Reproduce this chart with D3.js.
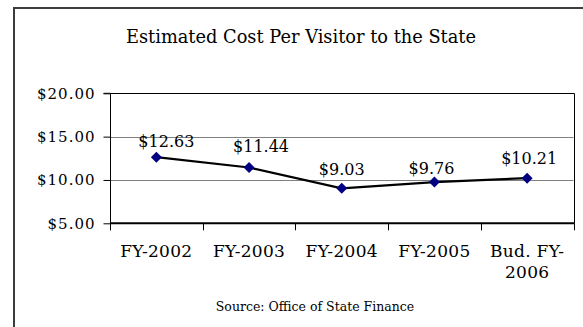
<!DOCTYPE html>
<html>
<head>
<meta charset="utf-8">
<script src="https://cdn.jsdelivr.net/npm/d3@7"></script>
<style>
  html, body { margin: 0; padding: 0; background: #fff; }
  svg { display: block; }
  text { font-family: "DejaVu Serif", serif; fill: #000; }
</style>
</head>
<body>
<svg id="chart" width="583" height="327"></svg>
<script>
// Fiscal years and estimated cost per visitor (dollars)
const years = ["FY-2002", "FY-2003", "FY-2004", "FY-2005", "Bud. FY-2006"];
const costPerVisitor = [12.63, 11.44, 9.03, 9.76, 10.21];
const yTicks = [5, 10, 15, 20];
const titleText = "Estimated Cost Per Visitor to the State";
const sourceText = "Source: Office of State Finance";

// Small label nudges so value labels clear the line
const labelNudge = [[10, -10], [12, -15], [0, -13], [-3, -8], [2, -14]];

const svg = d3.select("#chart");
const W = 583, H = 327;
const plot = { left: 110, right: 573.5, top: 93.3, bottom: 223.3 };

// Frame around the chart area
svg.append("path")
  .attr("d", `M14,${H + 5} L14,8 L${W + 5},8`)
  .attr("fill", "none")
  .attr("stroke", "#3c3c3c")
  .attr("stroke-width", 2);

svg.append("text")
  .attr("x", 301).attr("y", 43)
  .attr("text-anchor", "middle")
  .style("font-size", "17.8px")
  .text(titleText);

const x = d3.scaleBand().domain(years).range([plot.left, plot.right]);
const y = d3.scaleLinear().domain([5, 20]).range([plot.bottom, plot.top]);

// Horizontal gridlines
svg.append("g").selectAll("line")
  .data(yTicks.filter(t => t > 5 && t < 20))
  .join("line")
  .attr("x1", plot.left).attr("x2", plot.right)
  .attr("y1", d => Math.round(y(d)) + 0.5).attr("y2", d => Math.round(y(d)) + 0.5)
  .attr("stroke", "#808080").attr("stroke-width", 1);

// Plot border top and right
svg.append("path")
  .attr("d", `M${plot.left},${Math.round(plot.top) + 0.5} H${Math.round(plot.right) + 0.5} V${plot.bottom}`)
  .attr("fill", "none").attr("stroke", "#000").attr("stroke-width", 1);

// Y axis
const yAxis = d3.axisLeft(y).tickValues(yTicks).tickSize(7).tickPadding(8)
  .tickFormat(d => "$" + d3.format(".2f")(d));
const gy = svg.append("g").attr("transform", `translate(${plot.left + 0.5},0)`).call(yAxis);
gy.select(".domain").attr("stroke", "#000").attr("d", `M-7,${y(20)}H0V${y(5)}`);
gy.selectAll(".tick line").attr("stroke", "#000");
gy.selectAll(".tick text")
  .style("font-size", "15px")
  .style("letter-spacing", "1px")
  .style("font-family", "DejaVu Serif, serif")
  .attr("fill", "#000");

// X axis: ticks at category boundaries
const gx = svg.append("g").attr("transform", `translate(0,${plot.bottom})`);
gx.append("line")
  .attr("x1", plot.left).attr("x2", plot.right + 1)
  .attr("stroke", "#000").attr("stroke-width", 2);
const boundaries = years.map(d => x(d)).concat([x(years[years.length - 1]) + x.bandwidth()]);
gx.selectAll("line.tk").data(boundaries).join("line").attr("class", "tk")
  .attr("x1", d => Math.round(d) + 0.5).attr("x2", d => Math.round(d) + 0.5)
  .attr("y1", 0).attr("y2", 7)
  .attr("stroke", "#000").attr("stroke-width", 1);

// Category labels, wrapped to the band width
gx.selectAll("text.cat").data(years).join("text").attr("class", "cat")
  .attr("text-anchor", "middle")
  .style("font-size", "17px")
  .style("letter-spacing", "0.3px")
  .each(function (d) {
    const cx = x(d) + x.bandwidth() / 2;
    const lines = d.startsWith("Bud.") ? ["Bud. FY-", d.slice(8)] : [d];
    d3.select(this).selectAll("tspan").data(lines).join("tspan")
      .attr("x", cx).attr("y", (l, i) => 34 + i * 21)
      .text(l => l);
  });

// Series line
const pts = years.map((d, i) => [x(d) + x.bandwidth() / 2, y(costPerVisitor[i])]);
svg.append("path")
  .attr("d", d3.line()(pts))
  .attr("fill", "none").attr("stroke", "#000").attr("stroke-width", 2.2);

// Diamond markers
svg.append("g").selectAll("path").data(pts).join("path")
  .attr("transform", d => `translate(${d[0]},${d[1]})`)
  .attr("d", "M0,-5.5L5.5,0L0,5.5L-5.5,0Z")
  .attr("fill", "#000080");

// Value labels
svg.append("g").selectAll("text").data(costPerVisitor).join("text")
  .attr("x", (v, i) => pts[i][0] + labelNudge[i][0])
  .attr("y", (v, i) => pts[i][1] + labelNudge[i][1])
  .attr("text-anchor", "middle")
  .style("font-size", "16px")
  .text(v => "$" + d3.format(".2f")(v));

svg.append("text")
  .attr("x", 315).attr("y", 311)
  .attr("text-anchor", "middle")
  .style("font-size", "12.5px")
  .text(sourceText);
</script>
</body>
</html>
